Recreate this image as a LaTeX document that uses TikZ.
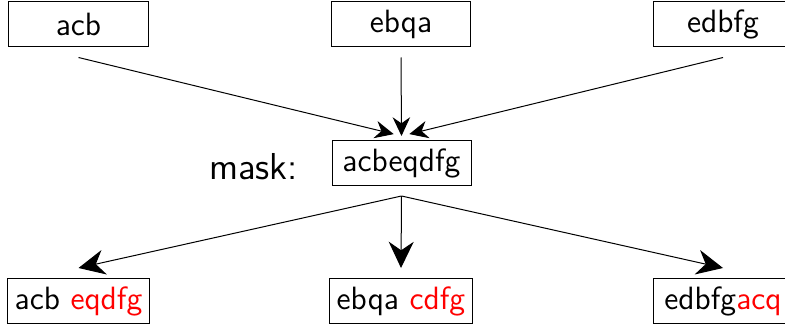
\documentclass[tikz,border=0pt]{standalone}
\usepackage{tikz}
\usetikzlibrary{arrows.meta}
\tikzset{>=latex}
\renewcommand{\familydefault}{\sfdefault}

\begin{document}
\begin{tikzpicture}[x=0.4pt,y=-0.4pt,
    word/.style={draw,minimum width=55.6pt,minimum height=18pt,inner sep=3pt,font=\fontsize{12.9}{15}\selectfont},
    upline/.style={-{Stealth[length=7.5pt,width=7pt]}},
    downline/.style={-{Stealth[length=10.5pt,width=10pt]}}]
    \useasboundingbox (0,0) rectangle (785,326);
    % parts
    \node[word] (acb) at (78.5,24.5) {acb};
    \node[word] (ebqa) at (401,24.5) {ebqa};
    \node[word] (edbfg) at (723,24.5) {edbfg};
    % mask
    \node[word] (mask) at (401.5,163) {acbeqdfg};
    \node[font=\fontsize{15}{18}\selectfont,anchor=base] (masklbl) at (253.5,179) {mask:};
    % results
    \node[word] (acbout) at (78.5,301) {acb \textcolor{red}{eqdfg}};
    \node[word] (ebqaout) at (401,301) {ebqa \textcolor{red}{cdfg}};
    \node[word] (edbfgout) at (723,301) {edbfg\textcolor{red}{acq}};
    \draw[upline,shorten >=3.2pt] ([yshift=-4pt]acb.south) -- ([yshift=1.6pt]mask.north);
    \draw[upline] ([yshift=-4pt]ebqa.south) -- ([yshift=1.6pt]mask.north);
    \draw[upline,shorten >=3.2pt] ([yshift=-4pt]edbfg.south) -- ([yshift=1.6pt]mask.north);
    \draw[downline] ([yshift=-4pt]mask.south) -- ([yshift=4pt]acbout.north);
    \draw[downline] ([yshift=-4pt]mask.south) -- ([yshift=4pt]ebqaout.north);
    \draw[downline] ([yshift=-4pt]mask.south) -- ([yshift=4pt]edbfgout.north);
\end{tikzpicture}
\end{document}
